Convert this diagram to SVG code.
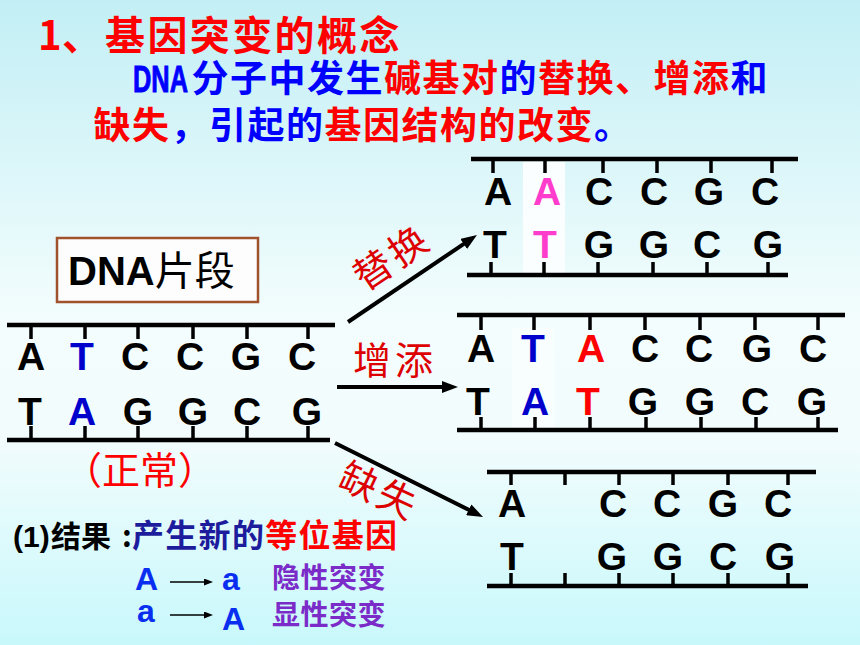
<svg xmlns="http://www.w3.org/2000/svg" width="860" height="645" viewBox="0 0 860 645">
<defs>
<linearGradient id="bg" x1="0" y1="0" x2="0" y2="1">
<stop offset="0" stop-color="#c2eff5"/>
<stop offset="0.5" stop-color="#f4fdfd"/>
<stop offset="0.68" stop-color="#f2fcfd"/>
<stop offset="1" stop-color="#c8f8fb"/>
</linearGradient>
<marker id="ah" markerUnits="userSpaceOnUse" markerWidth="16" markerHeight="12" refX="6" refY="6" orient="auto">
<path d="M0,0 L16,6 L0,12 z" fill="#000"/>
</marker>
<marker id="ahs" markerUnits="userSpaceOnUse" markerWidth="9" markerHeight="7" refX="3" refY="3.5" orient="auto">
<path d="M0,0 L9,3.5 L0,7 z" fill="#000"/>
</marker>
</defs>
<style>
.cjkb{font-family:"Noto Sans CJK SC",sans-serif;font-weight:bold}
.cjk{font-family:"Noto Sans CJK SC",sans-serif;font-weight:normal}
.lat{font-family:"Liberation Sans",Arial,sans-serif;font-weight:bold}
.red{fill:#ff0000}
.blue{fill:#0000ff}
.base{font-family:"Liberation Sans",Arial,sans-serif;font-weight:bold;font-size:39px;text-anchor:middle;fill:#000}
.bb{fill:#0000cc}
.rr{fill:#ff0000}
.pk{fill:#ff3ccc}
.bk{stroke:#000;stroke-width:4.5;fill:none}
.tk{stroke:#000;stroke-width:3.5;fill:none}
.arr{stroke:#000;stroke-width:4;fill:none}
.sarr{stroke:#000;stroke-width:1.5;fill:none}
.lbl{font-family:"Noto Sans CJK SC",sans-serif;font-size:38px;fill:#dd0000;letter-spacing:4px}
.pur{fill:#7b2bc8}
.nb{fill:#0a2ef0}
</style>
<rect x="0" y="0" width="860" height="645" fill="url(#bg)"/>

<g id="title">
<text class="cjkb red" font-size="40" y="50" letter-spacing="2.4"><tspan x="38">1</tspan><tspan x="62">、</tspan><tspan x="105">基因突变的概念</tspan></text>
</g>

<g id="definition">
<text class="lat blue" font-size="37" x="133" y="92" textLength="55" lengthAdjust="spacingAndGlyphs" stroke="#0000ff" stroke-width="0.9">DNA</text>
<text class="cjkb" font-size="37" x="191.5" y="92" letter-spacing="1.5"><tspan class="blue">分子中发生</tspan><tspan class="red">碱基对</tspan><tspan class="blue">的</tspan><tspan class="red">替换、增添</tspan><tspan class="blue">和</tspan></text>
<text class="cjkb" font-size="37" x="93.5" y="139" letter-spacing="1.5"><tspan class="red">缺失</tspan><tspan class="blue">，引起的</tspan><tspan class="red">基因结构的改变</tspan><tspan class="blue">。</tspan></text>
</g>

<g id="dna-label">
<rect x="57" y="238" width="201" height="64" fill="#fdfdfd" stroke="#a0522d" stroke-width="2.5"/>
<text x="68" y="285" font-size="40"><tspan class="lat" fill="#000">DNA</tspan><tspan class="cjk" fill="#000">片段</tspan></text>
</g>

<g id="normal-strand">
<path class="bk" d="M7,325 H335 M7,440 H330"/>
<path class="tk" d="M31,325 V339 M85,325 V339 M138,325 V339 M193,325 V339 M247,325 V339 M308,325 V339 M31,426 V440 M85,426 V440 M138,426 V440 M193,426 V440 M247,426 V440 M308,426 V440"/>
<text class="base" y="370"><tspan x="31">A</tspan><tspan x="82" class="bb">T</tspan><tspan x="135">C</tspan><tspan x="190">C</tspan><tspan x="246">G</tspan><tspan x="302">C</tspan></text>
<text class="base" y="425"><tspan x="30">T</tspan><tspan x="82" class="bb">A</tspan><tspan x="138">G</tspan><tspan x="193">G</tspan><tspan x="247">C</tspan><tspan x="307">G</tspan></text>
<text class="cjk red" font-size="38" x="64" y="484">（正常）</text>
</g>

<g id="substitution-strand">
<rect x="523" y="162" width="42" height="111" fill="#fafefe"/>
<path class="bk" d="M471,159 H798 M467,275 H788"/>
<path class="tk" d="M493,159 V173 M545,159 V173 M603,159 V173 M657,159 V173 M711,159 V173 M772,159 V173 M491,262 V275 M544,262 V275 M598,262 V275 M653,262 V275 M707,262 V275 M768,262 V275"/>
<text class="base" y="205"><tspan x="498">A</tspan><tspan x="547" class="pk">A</tspan><tspan x="599">C</tspan><tspan x="654">C</tspan><tspan x="709">G</tspan><tspan x="765">C</tspan></text>
<text class="base" y="258"><tspan x="495">T</tspan><tspan x="545" class="pk">T</tspan><tspan x="599">G</tspan><tspan x="654">G</tspan><tspan x="707">C</tspan><tspan x="768">G</tspan></text>
</g>

<g id="insertion-strand">
<rect x="512" y="328" width="43" height="100" fill="#f8fefe"/>
<path class="bk" d="M457,315 H845 M457,430 H838"/>
<path class="tk" d="M481,315 V330 M534,315 V330 M590,315 V330 M645,315 V330 M700,315 V330 M755,315 V330 M818,315 V330 M481,417 V430 M535,417 V430 M590,417 V430 M646,417 V430 M701,417 V430 M756,417 V430 M818,417 V430"/>
<text class="base" y="362"><tspan x="481">A</tspan><tspan x="533" class="bb">T</tspan><tspan x="591" class="rr">A</tspan><tspan x="645">C</tspan><tspan x="699">C</tspan><tspan x="757">G</tspan><tspan x="813">C</tspan></text>
<text class="base" y="415"><tspan x="478">T</tspan><tspan x="535" class="bb">A</tspan><tspan x="588" class="rr">T</tspan><tspan x="643">G</tspan><tspan x="700">G</tspan><tspan x="755">C</tspan><tspan x="812">G</tspan></text>
</g>

<g id="deletion-strand">
<path class="bk" d="M487,472 H816 M487,586 H808"/>
<path class="tk" d="M511,472 V485 M565,472 V485 M619,472 V485 M673,472 V485 M728,472 V485 M788,472 V485 M511,573 V586 M565,573 V586 M619,573 V586 M673,573 V586 M728,573 V586 M788,573 V586"/>
<text class="base" y="517"><tspan x="512">A</tspan><tspan x="613">C</tspan><tspan x="667">C</tspan><tspan x="723">G</tspan><tspan x="778">C</tspan></text>
<text class="base" y="570"><tspan x="512">T</tspan><tspan x="612">G</tspan><tspan x="668">G</tspan><tspan x="723">C</tspan><tspan x="780">G</tspan></text>
</g>

<g id="connectors">
<line class="arr" x1="348" y1="322" x2="468.7" y2="240.6" marker-end="url(#ah)"/>
<line class="arr" x1="337" y1="387" x2="448" y2="387" marker-end="url(#ah)"/>
<line class="arr" x1="335" y1="443" x2="474.1" y2="512.5" marker-end="url(#ah)"/>
<text class="lbl" text-anchor="middle" transform="translate(392,257) rotate(-34)" y="14">替换</text>
<text class="lbl" text-anchor="middle" x="395" y="374">增添</text>
<text class="lbl" text-anchor="middle" transform="translate(380,491) rotate(25)" y="14">缺失</text>
</g>

<g id="result">
<text y="547"><tspan class="lat" font-size="30" x="13" fill="#000">(1)</tspan><tspan class="cjkb" font-size="30" x="51" fill="#000">结果</tspan><tspan class="cjkb" font-size="30" x="122" fill="#000">:</tspan></text>
<text class="cjkb" font-size="32" x="132" y="547" letter-spacing="1.3"><tspan fill="#1c1c9c">产生新的</tspan><tspan class="red">等位基因</tspan></text>
</g>

<g id="allele-rows">
<text class="lat nb" font-size="32" x="135" y="590">A</text>
<line class="sarr" x1="170" y1="582" x2="207" y2="582" marker-end="url(#ahs)"/>
<text class="lat nb" font-size="32" x="222" y="590">a</text>
<text class="cjkb pur" font-size="28" x="272" y="588" letter-spacing="0.5">隐性突变</text>
<text class="lat nb" font-size="32" x="137" y="622">a</text>
<line class="sarr" x1="170" y1="615" x2="207" y2="615" marker-end="url(#ahs)"/>
<text class="lat nb" font-size="32" x="222" y="630">A</text>
<text class="cjkb pur" font-size="28" x="272" y="625" letter-spacing="0.5">显性突变</text>
</g>
</svg>
